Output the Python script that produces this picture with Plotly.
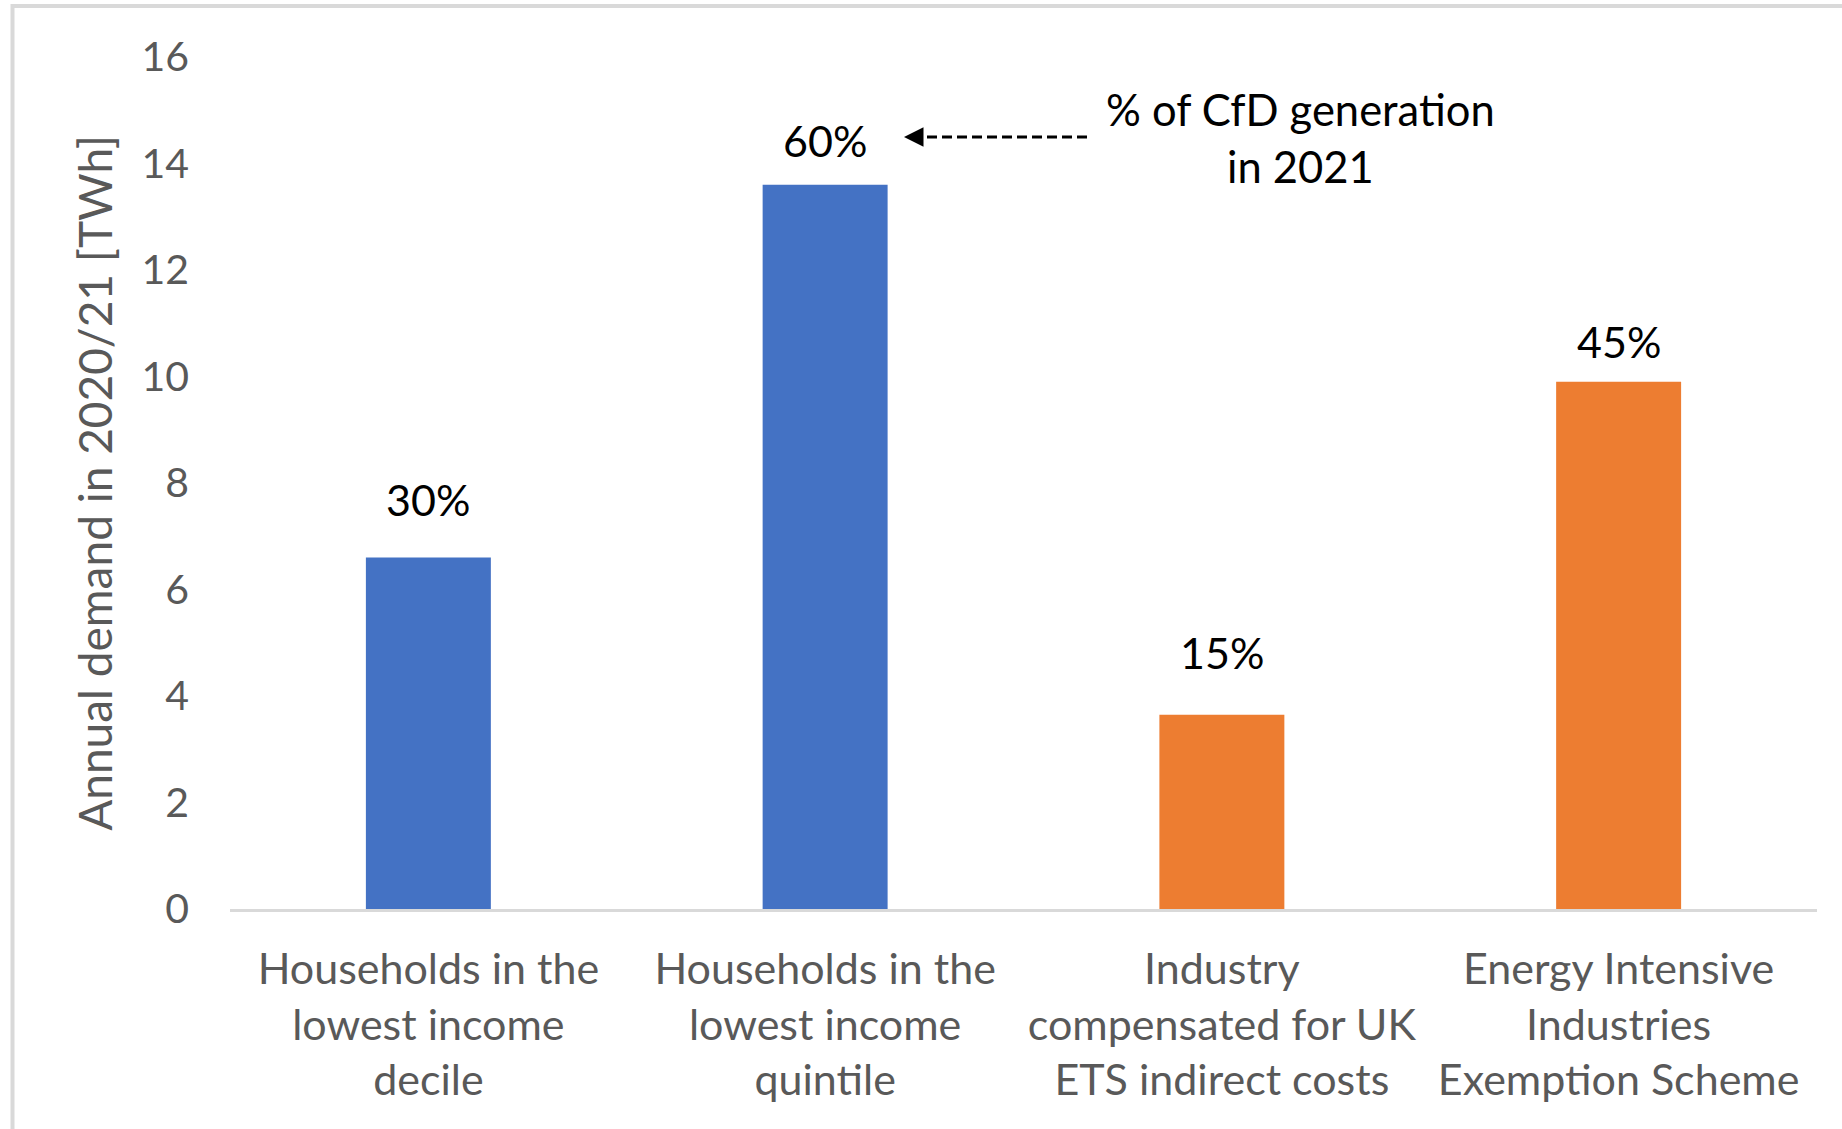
import plotly.graph_objects as go

# ---- data ----
categories = [
    "Households in the<br>lowest income<br>decile",
    "Households in the<br>lowest income<br>quintile",
    "Industry<br>compensated for UK<br>ETS indirect costs",
    "Energy Intensive<br>Industries<br>Exemption Scheme",
]
demand_twh = [6.6, 13.6, 3.65, 9.9]
share_labels = ["30%", "60%", "15%", "45%"]
bar_colors = ["#4472C4", "#4472C4", "#ED7D31", "#ED7D31"]
y_ticks = [0, 2, 4, 6, 8, 10, 12, 14, 16]

# ---- layout geometry (pixels) ----
W, H = 1842, 1129
L, R, T, B = 230, 25, 57, 220
pw, ph = W - L - R, H - T - B

def px_x(p):
    return (p - L) / pw

def px_y(p):
    return (H - B - p) / ph

FONT = "Lato"
label_offsets = [58, 44, 62, 40]  # px above bar tops

fig = go.Figure()
fig.add_trace(go.Bar(
    x=categories, y=demand_twh,
    marker=dict(color=bar_colors, line=dict(width=0)),
    hoverinfo="skip",
))

for c, v, t, off in zip(categories, demand_twh, share_labels, label_offsets):
    fig.add_annotation(x=c, y=v, text=t, showarrow=False, yanchor="middle",
                       yshift=off, font=dict(family=FONT, size=43, color="#000000"))

# side note
fig.add_annotation(xref="paper", yref="paper", x=px_x(1300), y=px_y(137),
                   text="% of CfD generation<br>in 2021", showarrow=False,
                   xanchor="center", yanchor="middle", align="center",
                   font=dict(family=FONT, size=43.5, color="#000000"))

# dashed arrow
fig.add_shape(type="line", xref="paper", yref="paper",
              x0=px_x(1087), x1=px_x(915), y0=px_y(137), y1=px_y(137),
              line=dict(color="#000000", width=3, dash="10px,5px"))
fig.add_annotation(xref="paper", yref="paper", x=px_x(904), y=px_y(137),
                   ax=14, ay=0, text="", showarrow=True, arrowhead=2,
                   arrowsize=1.3, arrowwidth=3, arrowcolor="#000000")

# outer frame (left and top edges visible)
fig.add_shape(type="rect", xref="paper", yref="paper",
              x0=px_x(12.5), x1=px_x(W + 50), y0=px_y(H + 50), y1=px_y(6),
              line=dict(color="#D9D9D9", width=4), fillcolor="rgba(0,0,0,0)", layer="below")

fig.update_layout(
    width=W, height=H,
    margin=dict(l=L, r=R, t=T, b=B, pad=0),
    paper_bgcolor="white", plot_bgcolor="white",
    bargap=0.685, showlegend=False,
    font=dict(family=FONT, color="#595959"),
)
fig.update_xaxes(
    showgrid=False, showline=True, linecolor="#D9D9D9", linewidth=3,
    ticks="", tickfont=dict(family=FONT, size=43, color="#595959"),
    ticklabelstandoff=20, zeroline=False,
)
fig.update_yaxes(
    range=[0, 16], tickvals=y_ticks, showgrid=False, showline=False, zeroline=False,
    ticks="", tickfont=dict(family=FONT, size=41, color="#595959"),
    ticklabelstandoff=40,
    title=dict(text="Annual demand in 2020/21 [TWh]", standoff=14,
               font=dict(family=FONT, size=46, color="#595959")),
)

fig.write_html("out.html")
